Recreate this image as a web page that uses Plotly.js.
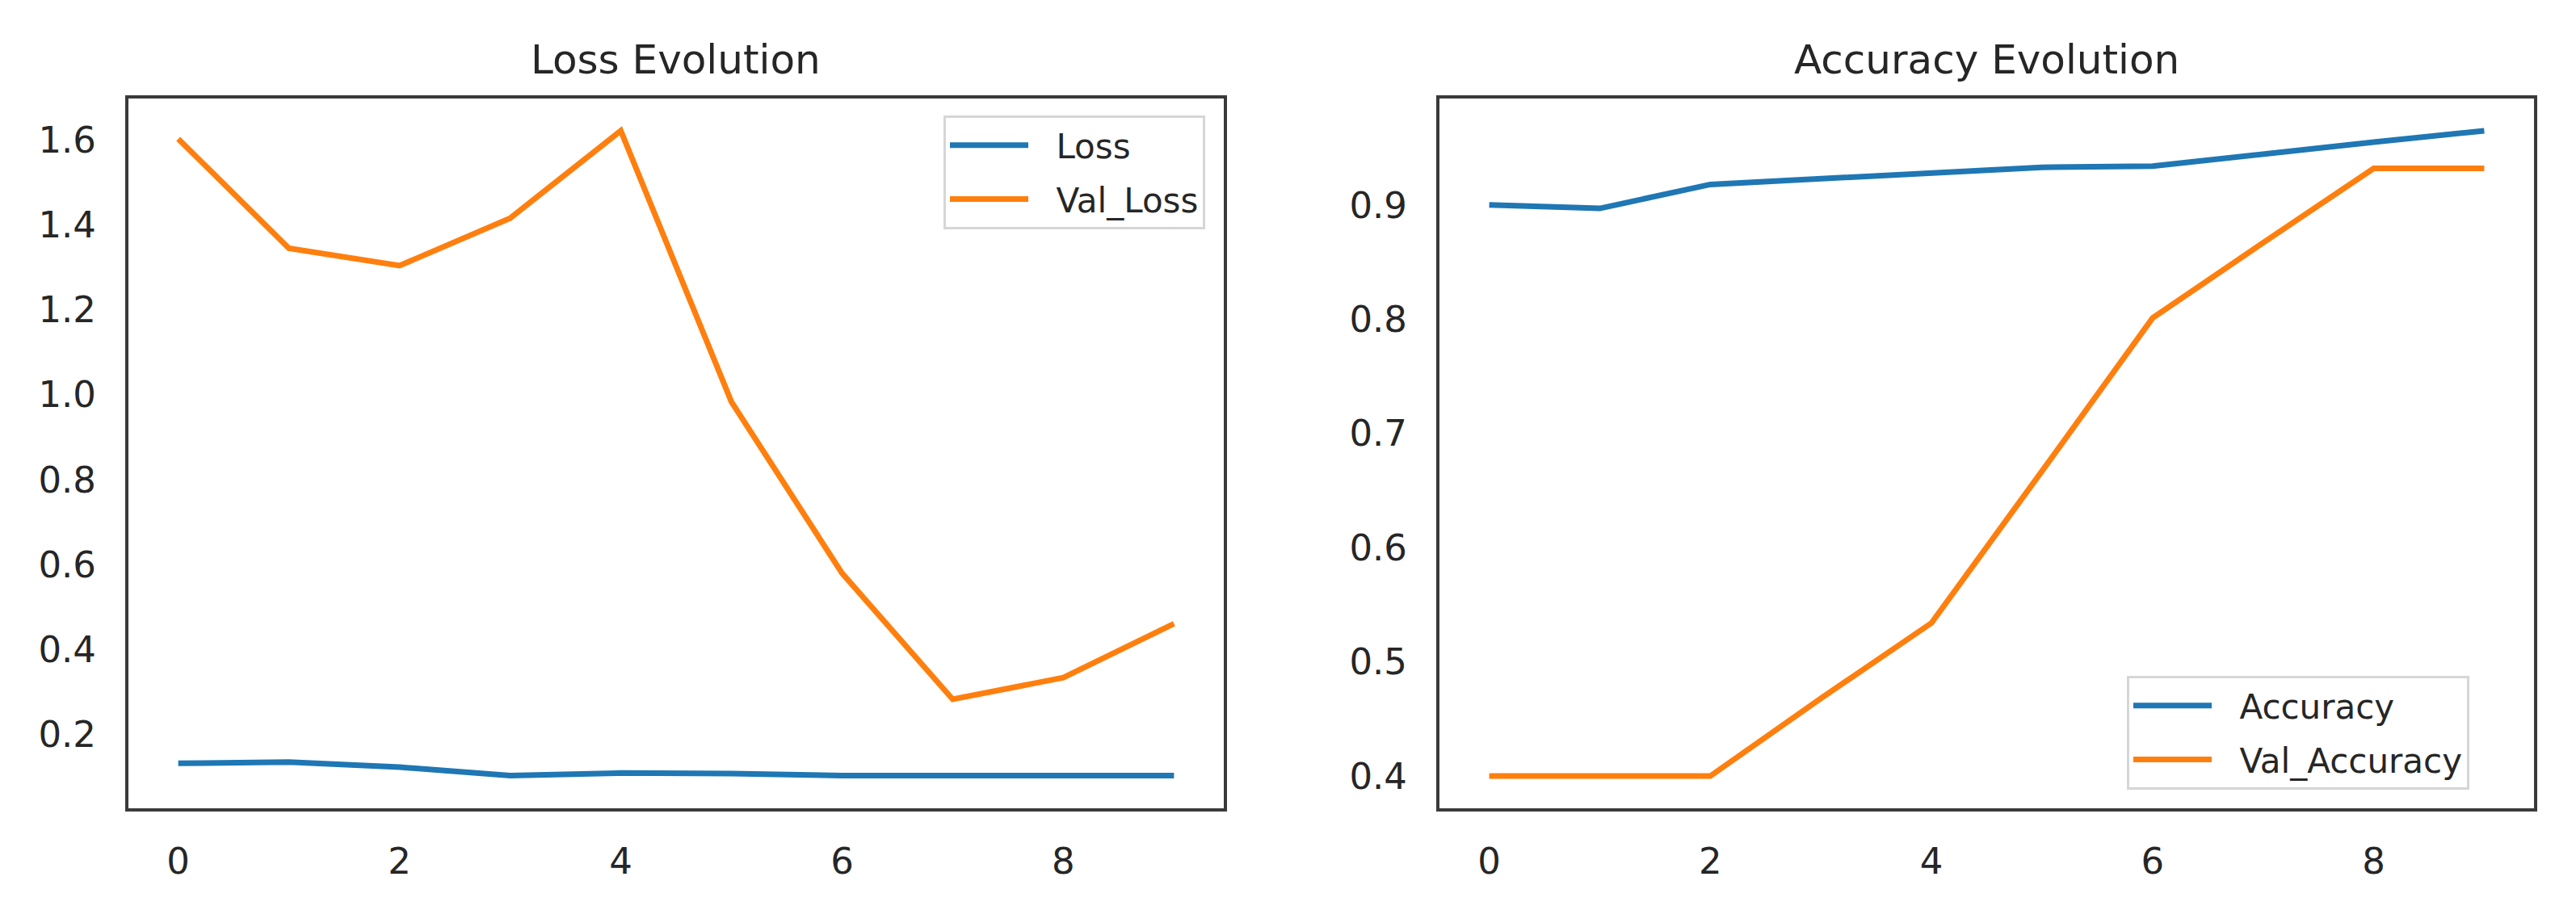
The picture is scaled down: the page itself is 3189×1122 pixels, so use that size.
<!DOCTYPE html>
<html>
<head>
<meta charset="utf-8">
<script src="https://cdn.plot.ly/plotly-3.0.1.min.js"></script>
<style>html,body{margin:0;padding:0;background:#fff;}#chart{width:3189px;height:1122px;}</style>
</head>
<body>
<div id="chart"></div>
<script>
// ---- data ----
const epochs = [0, 1, 2, 3, 4, 5, 6, 7, 8, 9];
const loss = [0.131, 0.134, 0.122, 0.102, 0.108, 0.107, 0.102, 0.102, 0.101, 0.102];
const valLoss = [1.603, 1.345, 1.304, 1.416, 1.622, 0.983, 0.579, 0.282, 0.333, 0.460];
const accuracy = [0.900, 0.897, 0.918, 0.923, 0.929, 0.933, 0.934, 0.945, 0.955, 0.965];
const valAccuracy = [0.400, 0.400, 0.400, 0.468, 0.534, 0.667, 0.801, 0.867, 0.932, 0.932];
const titles = ["Loss Evolution", "Accuracy Evolution"];
const seriesNames = ["Loss", "Val_Loss", "Accuracy", "Val_Accuracy"];
const lossTicks = [0.2, 0.4, 0.6, 0.8, 1.0, 1.2, 1.4, 1.6];
const accTicks = [0.4, 0.5, 0.6, 0.7, 0.8, 0.9];
const xTicks = [0, 2, 4, 6, 8];

function padRange(arrs) {
  const all = [].concat(...arrs);
  const lo = Math.min(...all), hi = Math.max(...all);
  const m = 0.05 * (hi - lo);
  return [lo - m, hi + m];
}

const blue = '#1f77b4', orange = '#ff7f0e';
const FONT = 'DejaVu Sans, sans-serif';
const textColor = '#262626';
const GAP = '\u2002\u2009'; // visual gap between legend line and label

function tr(y, i, color, xa, ya, lg) {
  return {x: epochs, y: y, name: GAP + seriesNames[i], type: 'scatter', mode: 'lines',
          line: {color: color, width: 7}, xaxis: xa, yaxis: ya, legend: lg, legendgroup: 'g' + i};
}

const traces = [
  tr(loss, 0, blue, 'x', 'y', 'legend'),
  tr(valLoss, 1, orange, 'x', 'y', 'legend'),
  tr(accuracy, 2, blue, 'x2', 'y2', 'legend2'),
  tr(valAccuracy, 3, orange, 'x2', 'y2', 'legend2')
];

const axisBase = {
  showgrid: false, zeroline: false, showline: true, mirror: true,
  linecolor: '#3a3a3a', linewidth: 4, ticks: '',
  tickfont: {family: FONT, size: 45, color: textColor}
};
const xr = padRange([epochs]);

const legendBase = {
  bgcolor: 'rgba(255,255,255,0.8)', bordercolor: '#d6d6d6', borderwidth: 3,
  font: {family: FONT, size: 42, color: textColor},
  itemwidth: 97, tracegroupgap: 9
};

const layout = {
  width: 3189, height: 1122,
  margin: {l: 0, r: 0, t: 0, b: 0},
  paper_bgcolor: '#fff', plot_bgcolor: '#fff',
  showlegend: true,
  xaxis: Object.assign({}, axisBase, {domain: [159/3189, 1515/3189], range: xr, tickvals: xTicks, anchor: 'y', ticklabelstandoff: 23}),
  yaxis: Object.assign({}, axisBase, {domain: [0.10784, 0.8913], range: padRange([loss, valLoss]), tickvals: lossTicks, tickformat: '.1f', anchor: 'x', ticklabelstandoff: 27}),
  xaxis2: Object.assign({}, axisBase, {domain: [1782/3189, 3137/3189], range: xr, tickvals: xTicks, anchor: 'y2', ticklabelstandoff: 23}),
  yaxis2: Object.assign({}, axisBase, {domain: [0.10784, 0.8913], range: padRange([accuracy, valAccuracy]), tickvals: accTicks, tickformat: '.1f', anchor: 'x2', ticklabelstandoff: 27}),
  legend: Object.assign({}, legendBase, {x: 1492/3189, y: 1 - 143/1122, xanchor: 'right', yanchor: 'top'}),
  legend2: Object.assign({}, legendBase, {x: 3057/3189, y: 1 - 978/1122, xanchor: 'right', yanchor: 'bottom'}),
  annotations: [
    {text: titles[0], xref: 'paper', yref: 'paper', x: (159 + 1515) / 2 / 3189, y: 0.934, xanchor: 'center', yanchor: 'middle', showarrow: false, font: {family: FONT, size: 50, color: textColor}},
    {text: titles[1], xref: 'paper', yref: 'paper', x: (1782 + 3137) / 2 / 3189, y: 0.934, xanchor: 'center', yanchor: 'middle', showarrow: false, font: {family: FONT, size: 50, color: textColor}}
  ]
};

Plotly.newPlot('chart', traces, layout, {displayModeBar: false, staticPlot: true});
</script>
</body>
</html>
